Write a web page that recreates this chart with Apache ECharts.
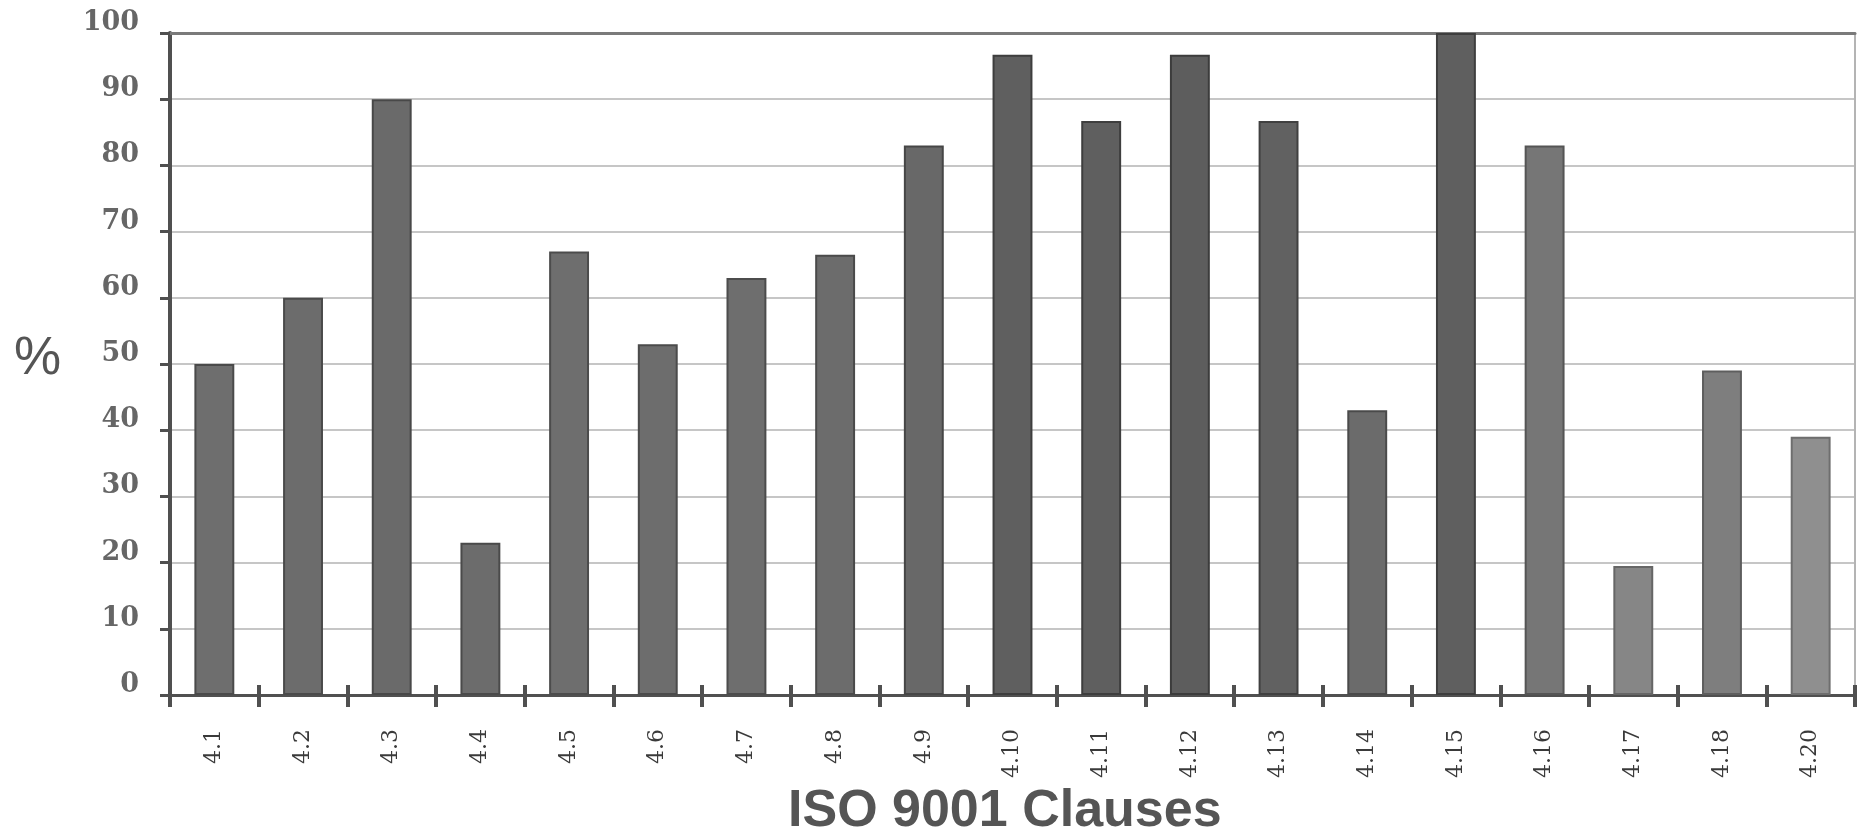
<!DOCTYPE html>
<html>
<head>
<meta charset="utf-8">
<title>ISO 9001 Clauses</title>
<script src="https://cdn.jsdelivr.net/npm/echarts@6/dist/echarts.min.js"></script>
<style>
  html, body { margin: 0; padding: 0; background: #ffffff; }
  #chart { width: 1872px; height: 830px; }
</style>
</head>
<body>
<div id="chart"></div>
<script>
// Clause numbers along the horizontal axis
const categories = ['4.1', '4.2', '4.3', '4.4', '4.5', '4.6', '4.7', '4.8', '4.9', '4.10',
                    '4.11', '4.12', '4.13', '4.14', '4.15', '4.16', '4.17', '4.18', '4.20'];

// Percentage recorded for each clause
const percentages = [50, 60, 90, 23, 67, 53, 63, 66.5, 83, 96.7,
                     86.7, 96.7, 86.7, 43, 100, 83, 19.5, 49, 39];

// Value axis range and step
const yMin = 0;
const yMax = 100;
const yStep = 10;

// Grey tone for each bar (printed halftone gets lighter toward the right)
const barShades = ['#6e6e6e', '#6c6c6c', '#6a6a6a', '#6c6c6c', '#6e6e6e', '#6d6d6d', '#6e6e6e', '#6c6c6c', '#686868', '#5f5f5f',
                   '#5f5f5f', '#5d5d5d', '#616161', '#6b6b6b', '#5f5f5f', '#767676', '#868686', '#7e7e7e', '#8f8f8f'];
const barEdges  = ['#4a4a4a', '#4a4a4a', '#484848', '#4a4a4a', '#4c4c4c', '#4b4b4b', '#4c4c4c', '#4a4a4a', '#464646', '#3e3e3e',
                   '#3e3e3e', '#3c3c3c', '#404040', '#4a4a4a', '#3e3e3e', '#555555', '#666666', '#5e5e5e', '#6e6e6e'];

const chart = echarts.init(document.getElementById('chart'), null, { renderer: 'canvas' });

const axisDark = '#505050';
const tickStyle = { color: axisDark, width: 4 };

const option = {
  backgroundColor: '#ffffff',
  animation: false,
  grid: { left: 170, right: 17, top: 33, bottom: 135, containLabel: false },
  xAxis: [
    {
      type: 'category',
      data: categories,
      position: 'bottom',
      axisLine: { show: true, lineStyle: { color: axisDark, width: 3 } },
      axisTick: { show: true, length: 12, lineStyle: tickStyle },
      axisLabel: {
        rotate: 90,
        margin: 34,
        fontFamily: 'DejaVu Serif',
        fontSize: 22,
        color: '#3a3a3a'
      },
      splitLine: { show: false }
    },
    {
      // upper half of the crossing tick marks
      type: 'category',
      data: categories,
      position: 'bottom',
      axisLine: { show: false },
      axisTick: { show: true, inside: true, length: 10, lineStyle: tickStyle },
      axisLabel: { show: false },
      splitLine: { show: false }
    },
    {
      // top frame line
      type: 'category',
      data: categories,
      position: 'top',
      axisLine: { show: true, lineStyle: { color: '#7a7a7a', width: 3 } },
      axisTick: { show: false },
      axisLabel: { show: false },
      splitLine: { show: false }
    }
  ],
  yAxis: [
    {
      type: 'value',
      min: yMin,
      max: yMax,
      interval: yStep,
      axisLine: { show: true, lineStyle: { color: axisDark, width: 4 } },
      axisTick: { show: true, length: 10, lineStyle: { color: axisDark, width: 3 } },
      axisLabel: {
        margin: 31,
        fontFamily: 'DejaVu Serif',
        fontWeight: 'bold',
        fontSize: 27,
        color: '#666666',
        verticalAlign: 'bottom',
        lineHeight: 20
      },
      splitLine: { show: true, lineStyle: { color: '#c6c6c6', width: 2 } }
    },
    {
      // right frame line
      type: 'value',
      position: 'right',
      min: yMin,
      max: yMax,
      interval: yStep,
      axisLine: { show: true, lineStyle: { color: '#b4b4b4', width: 2 } },
      axisTick: { show: false },
      axisLabel: { show: false },
      splitLine: { show: false }
    }
  ],
  series: [
    {
      type: 'bar',
      xAxisIndex: 0,
      yAxisIndex: 0,
      barWidth: '45%',
      data: percentages.map((v, i) => ({
        value: v,
        itemStyle: { color: barShades[i], borderColor: barEdges[i], borderWidth: 2 }
      }))
    }
  ],
  graphic: [
    {
      type: 'text',
      left: 14,
      top: 333,
      style: {
        text: '%',
        font: 'normal 53px "Liberation Sans", Arial, sans-serif',
        fill: '#555555'
      }
    },
    {
      type: 'text',
      left: 788,
      top: 786,
      style: {
        text: 'ISO 9001 Clauses',
        font: 'bold 52px "Liberation Sans", Arial, sans-serif',
        fill: '#555555'
      }
    }
  ]
};

chart.setOption(option);
</script>
</body>
</html>
